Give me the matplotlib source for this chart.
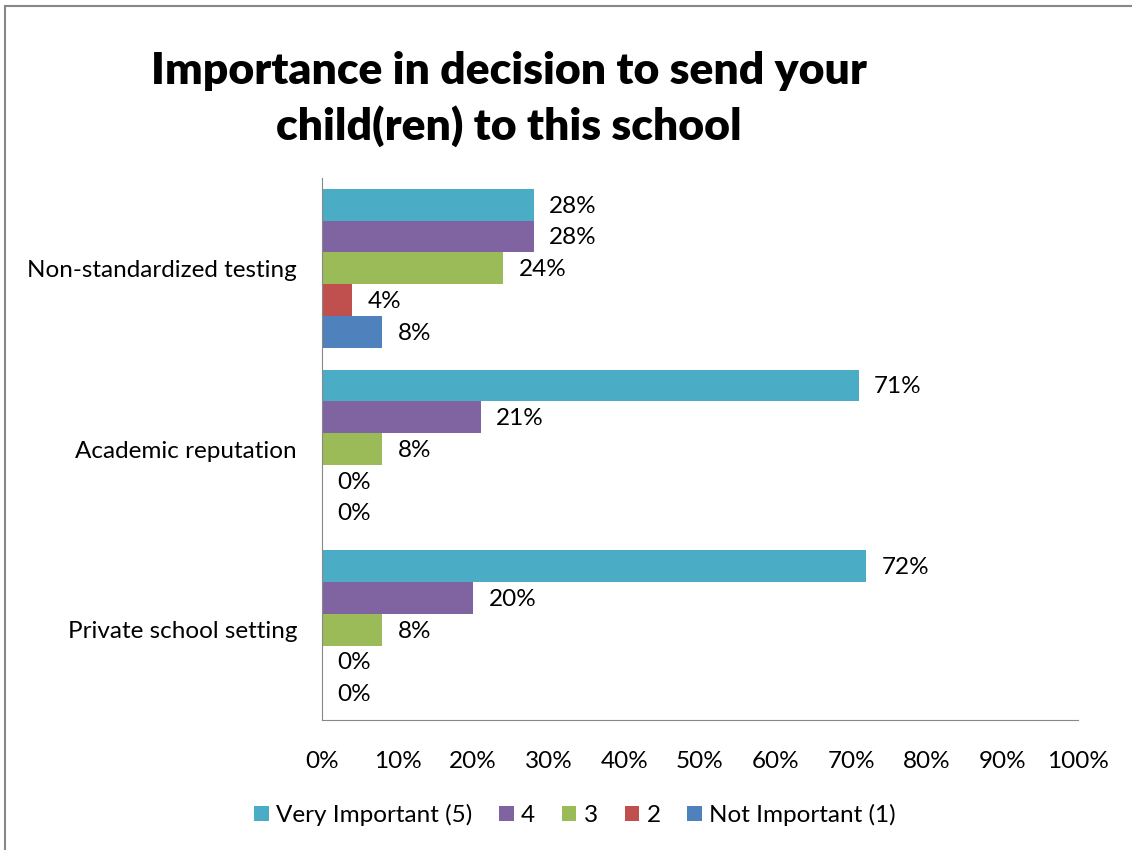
import numpy as np
import matplotlib.pyplot as plt
from matplotlib.patches import Rectangle

plt.rcParams['font.family'] = ['Lato', 'DejaVu Sans']

categories = ["Non-standardized testing", "Academic reputation", "Private school setting"]
series = ["Very Important (5)", "4", "3", "2", "Not Important (1)"]
values = [
    [28, 71, 72],  # Very Important (5)
    [28, 21, 20],  # 4
    [24, 8, 8],    # 3
    [4, 0, 0],     # 2
    [8, 0, 0],     # Not Important (1)
]
colors = ["#4BACC6", "#8064A2", "#9BBB59", "#C0504D", "#4F81BD"]

fig = plt.figure(figsize=(11.32, 8.5), dpi=100)
ax = fig.add_axes([322 / 1132, 1 - 720 / 850, 756 / 1132, 542 / 850])

y = np.arange(len(categories))
h = 0.176
for i, (name, vals, c) in enumerate(zip(series, values, colors)):
    pos = y + (i - 2) * h
    ax.barh(pos, vals, height=h, color=c, label=name)
    for p, v in zip(pos, vals):
        ax.annotate(f"{v}%", (v, p), xytext=(11, -1), textcoords="offset points",
                    va="center", ha="left", fontsize=17.5)

ax.set_xlim(0, 100)
ax.set_ylim(2.5, -0.5)
ax.set_xticks(np.arange(0, 101, 10))
ax.set_xticklabels([f"{t}%" for t in range(0, 101, 10)], fontsize=17.5)
ax.set_yticks(y)
ax.set_yticklabels(categories, fontsize=17.5)
ax.tick_params(length=0, pad=18)
ax.tick_params(axis="x", pad=22)
for s in ["top", "right"]:
    ax.spines[s].set_visible(False)
for s in ["left", "bottom"]:
    ax.spines[s].set_color("#888888")

fig.text(509 / 1132, 1 - 99 / 850, "Importance in decision to send your\nchild(ren) to this school",
         ha="center", va="center", fontsize=32, fontweight="heavy", linespacing=1.42)

fig.legend(loc="center", bbox_to_anchor=(575 / 1132, 1 - 815 / 850), ncol=5, frameon=False,
           fontsize=17.5, handlelength=0.6, handleheight=0.6, handletextpad=0.3, columnspacing=1.1)

fig.patches.append(Rectangle((5 / 1132, -0.01), 1.2, 1 - 6 / 850 + 0.01, transform=fig.transFigure,
                             fill=False, edgecolor="#888888", linewidth=1.5))

fig.savefig("out.png", dpi=100)
